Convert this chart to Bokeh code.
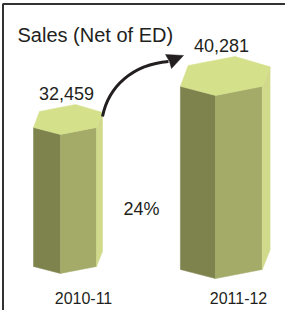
from bokeh.plotting import figure
from bokeh.models import Range1d
from bokeh.core.properties import value
from bokeh.embed import file_html
from bokeh.resources import INLINE

# ---- data ----
categories = ["2010-11", "2011-12"]
sales = [32459, 40281]
title_text = "Sales (Net of ED)"

# ---- style ----
bar_scale = [1.0, 1.3]          # visual size of each prism
BASE = 4573                     # value at which the prisms start
TXT = "#231f20"
C_TOP = "#d4e08a"
C_LEFT = "#7e834e"
C_MID = "#a4ab68"
C_RIGHT = "#d0da8a"
FONT = value("Liberation Sans")

W, H = 285, 310
XS, XE = -60 / 155, 225 / 155
YS, YE = -2848, 59326
PXX = W / (XE - XS)             # px per x unit
PXY = H / (YE - YS)             # px per y unit


def dx(px):
    return px / PXX


def dy(px):
    return px / PXY


def rx(xr):  # pixel x of the layout -> data
    return XS + xr / PXX


def ry(yr):
    return YE - yr / PXY


p = figure(width=W, height=H, x_range=Range1d(XS, XE), y_range=Range1d(YS, YE),
           output_backend="svg", toolbar_location=None, min_border=0,
           x_axis_type=None, y_axis_type=None)
p.grid.visible = False
p.outline_line_color = None
p.background_fill_color = "white"
p.border_fill_color = "white"

# hexagon offsets (px, up positive) relative to front vertex
TOP = {"F": (0, 0), "FR": (36, 7), "R": (42, 22), "T": (15, 30), "TL": (-21, 23), "L": (-27, 7)}

xs_all, ys_all, cols = [], [], []
for i, v in enumerate(sales):
    s = bar_scale[i]
    bottom = BASE - dy((s - 1) * 17)

    def pt(k, yb):
        ox, oy = TOP[k]
        return i + dx(ox * s), yb + dy(oy * s)

    faces = [
        ([("L", v), ("F", v), ("F", bottom), ("L", bottom)], C_LEFT),
        ([("F", v), ("FR", v), ("FR", bottom), ("F", bottom)], C_MID),
        ([("FR", v), ("R", v), ("R", bottom), ("FR", bottom)], C_RIGHT),
        ([("F", v), ("FR", v), ("R", v), ("T", v), ("TL", v), ("L", v)], C_TOP),
    ]
    for verts, c in faces:
        pts = [pt(k, yb) for k, yb in verts]
        xs_all.append([q[0] for q in pts])
        ys_all.append([q[1] for q in pts])
        cols.append(c)

p.patches(xs_all, ys_all, fill_color=cols, line_color=cols, line_width=0.5)

# value labels
p.text(x=[i + dx(6) for i in range(len(sales))],
       y=[v + dy(30 * bar_scale[i] + 11) for i, v in enumerate(sales)],
       text=[f"{v:,}" for v in sales], text_font=FONT, text_font_size="18px",
       text_align="center", text_baseline="alphabetic", text_color=TXT)

# category labels
p.text(x=[i + dx(23) for i in range(len(categories))],
       y=[ry(297)] * len(categories), text=categories, text_font=FONT,
       text_font_size="16px", text_align="center", text_baseline="alphabetic",
       text_color=TXT)

# growth label
growth = round((sales[1] / sales[0] - 1) * 100)
p.text(x=[0.5 + dx(3.5)], y=[ry(208)], text=[f"{growth}%"], text_font=FONT,
       text_font_size="18px", text_align="center", text_baseline="alphabetic",
       text_color=TXT)

# title
p.text(x=[rx(17)], y=[ry(34.5)], text=[title_text], text_font=FONT,
       text_font_size="20px", text_align="left", text_baseline="alphabetic",
       text_color=TXT)

# curved arrow
p.bezier(x0=[rx(102)], y0=[ry(116)], x1=[rx(168)], y1=[ry(61)],
         cx0=[rx(108)], cy0=[ry(86)], cx1=[rx(132)], cy1=[ry(64)],
         line_color=TXT, line_width=3)
p.patch(x=[rx(183), rx(165), rx(169), rx(171)],
        y=[ry(55), ry(54), ry(61), ry(68)],
        fill_color=TXT, line_color=TXT, line_width=0.5)

# frame lines (top and left)
p.line(x=[rx(2.5), rx(2.5), XE], y=[YS, ry(3.5), ry(3.5)],
       line_color="#333333", line_width=2)

open("out.html", "w").write(file_html(p, INLINE))
